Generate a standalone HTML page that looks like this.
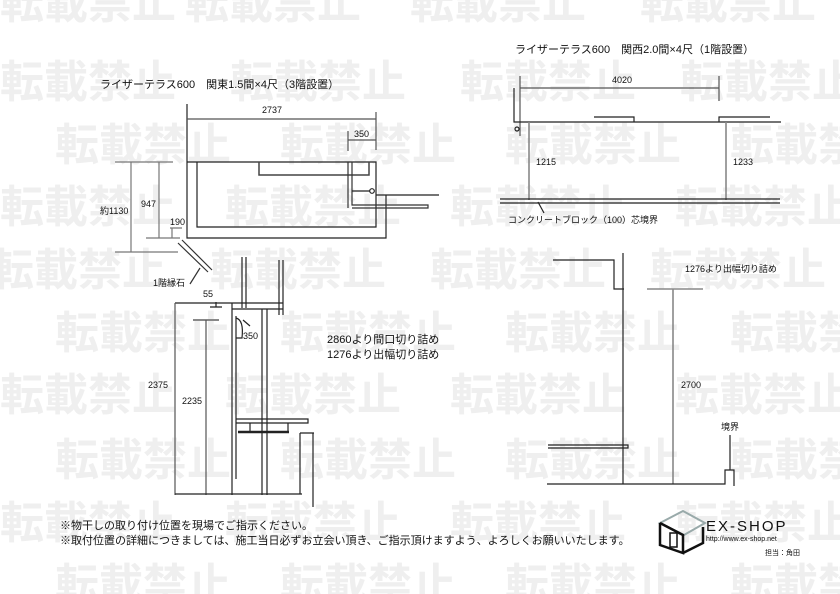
<!DOCTYPE html>
<html><head><meta charset="utf-8"><style>
body{margin:0;background:#fff;}
svg{display:block}
.wm{font-family:"Liberation Sans","Noto Sans CJK JP",sans-serif;font-size:44px;font-weight:bold;fill:#efefef;}
.t{font-family:"Liberation Sans","Noto Sans CJK JP",sans-serif;font-size:11px;fill:#111;}
.s{font-family:"Liberation Sans","Noto Sans CJK JP",sans-serif;font-size:9px;fill:#111;}
</style></head><body>
<svg width="840" height="594" viewBox="0 0 840 594" xmlns="http://www.w3.org/2000/svg">
<g class="wm">
<text x="0" y="18">転載禁止</text><text x="185" y="18">転載禁止</text><text x="410" y="18">転載禁止</text><text x="640" y="18">転載禁止</text>
<text x="0" y="97">転載禁止</text><text x="230" y="97">転載禁止</text><text x="460" y="97">転載禁止</text><text x="680" y="97">転載禁止</text>
<text x="55" y="160">転載禁止</text><text x="280" y="160">転載禁止</text><text x="505" y="160">転載禁止</text><text x="730" y="160">転載禁止</text>
<text x="0" y="222">転載禁止</text><text x="225" y="222">転載禁止</text><text x="450" y="222">転載禁止</text><text x="675" y="222">転載禁止</text>
<text x="-10" y="285">転載禁止</text><text x="210" y="285">転載禁止</text><text x="430" y="285">転載禁止</text><text x="650" y="285">転載禁止</text>
<text x="55" y="348">転載禁止</text><text x="280" y="348">転載禁止</text><text x="505" y="348">転載禁止</text><text x="730" y="348">転載禁止</text>
<text x="0" y="410">転載禁止</text><text x="225" y="410">転載禁止</text><text x="450" y="410">転載禁止</text><text x="675" y="410">転載禁止</text>
<text x="55" y="475">転載禁止</text><text x="280" y="475">転載禁止</text><text x="505" y="475">転載禁止</text><text x="730" y="475">転載禁止</text>
<text x="0" y="538">転載禁止</text><text x="225" y="538">転載禁止</text><text x="450" y="538">転載禁止</text><text x="675" y="538">転載禁止</text>
<text x="55" y="600">転載禁止</text><text x="280" y="600">転載禁止</text><text x="505" y="600">転載禁止</text><text x="730" y="600">転載禁止</text>
</g>

<g fill="none" stroke="#222" stroke-width="1.2">
<path d="M187 104V238H386V195"/>
<path d="M187 119H376M376 112V150M348 131V151M348 140H376" stroke="#555"/>
<path d="M187 162H376V227H197V162"/>
<path d="M259 162V175H369V162" stroke="#444" stroke-width="1.5"/>
<path d="M348 162V208M352 162V205H428V208H352" stroke="#333"/>
<path d="M352 191H370"/>
<circle cx="372" cy="191" r="2.3"/>
<path d="M376 195H439"/>
<path d="M115 162H173M131 162V252M115 252H178M159 162V238M146 238H180M172 228V238M170 228H182" stroke="#777"/>
<path d="M178 243L208 272M182 240L212 270M190 284L200 268" stroke="#333"/>
<path d="M242 257V308M246 257V308M279 260V315M283 260V315"/>
<path d="M175 303H283M232 309H283M232 303V495M236 316V479M262 309V495M267 309V495"/>
<path d="M216 302V307M210 307H222"/>
<path d="M193 320H219" stroke="#888" stroke-width="2"/>
<path d="M236 318Q244 320 242 338H236"/>
<path d="M243 320L250 326"/>
<path d="M175 303V495M206 320V495" stroke="#555"/>
<path d="M175 494H302"/>
<path d="M236 419H308V423H236"/>
<path d="M238 432H289" stroke-width="2.5"/>
<path d="M250 423V432M288 423V432M300 433V494M300 433H314M313 433V507"/>
<path d="M520 76V136M520 88H719M719 76V101" stroke="#555"/>
<path d="M514 88V122H781M594 117H634V122M719 122V117H770"/>
<circle cx="517" cy="129" r="2"/>
<path d="M529 122V200M726 122V200" stroke="#888" stroke-width="1.6"/>
<path d="M500 199H780M500 203H780"/>
<path d="M538 202L544 213"/>
<path d="M553 260H614V289H624M623 253V484"/>
<path d="M647 289H703M673 289V484" stroke="#888" stroke-width="1.6"/>
<path d="M548 445H628V448H548"/>
<path d="M547 484H725V470H734V486M730 435V470"/>
</g>

<g class="t">
<text x="100" y="88">ライザーテラス600　関東1.5間×4尺（3階設置）</text>
<text x="515" y="53">ライザーテラス600　関西2.0間×4尺（1階設置）</text>
<text class="s" x="262" y="113">2737</text>
<text class="s" x="354" y="137">350</text>
<text class="s" x="100" y="214">約1130</text>
<text class="s" x="141" y="207">947</text>
<text class="s" x="170" y="225">190</text>
<text class="s" x="153" y="286">1階縁石</text>
<text class="s" x="203" y="297">55</text>
<text class="s" x="243" y="339">350</text>
<text class="s" x="148" y="388">2375</text>
<text class="s" x="182" y="404">2235</text>
<text x="327" y="343">2860より間口切り詰め</text>
<text x="327" y="358">1276より出幅切り詰め</text>
<text class="s" x="612" y="83">4020</text>
<text class="s" x="536" y="165">1215</text>
<text class="s" x="733" y="165">1233</text>
<text class="s" x="508" y="223">コンクリートブロック（100）芯境界</text>
<text class="s" x="685" y="272">1276より出幅切り詰め</text>
<text class="s" x="681" y="388">2700</text>
<text class="s" x="721" y="430">境界</text>
<text x="60" y="529">※物干しの取り付け位置を現場でご指示ください。</text>
<text x="60" y="544">※取付位置の詳細につきましては、施工当日必ずお立会い頂き、ご指示頂けますよう、よろしくお願いいたします。</text>
</g>

<g stroke="#111" stroke-width="2.5" fill="none">
<path d="M660 523L683 511L705 523L684 535Z" stroke="#9aa" stroke-width="2"/>
<path d="M660 523V545L683 553V535L660 523M683 553L703 543V527"/>
<rect x="670" y="533" width="7" height="14" stroke-width="1.5"/>
</g>
<text x="706" y="531" style="font-family:'Liberation Sans',sans-serif;font-size:15px;letter-spacing:2px;fill:#111">EX-SHOP</text>
<text x="706" y="541" style="font-family:'Liberation Sans',sans-serif;font-size:7px;fill:#111">http://www.ex-shop.net</text>
<text x="765" y="555" style="font-family:'Liberation Sans','Noto Sans CJK JP',sans-serif;font-size:7px;fill:#111">担当：角田</text>
</svg>
</body></html>
